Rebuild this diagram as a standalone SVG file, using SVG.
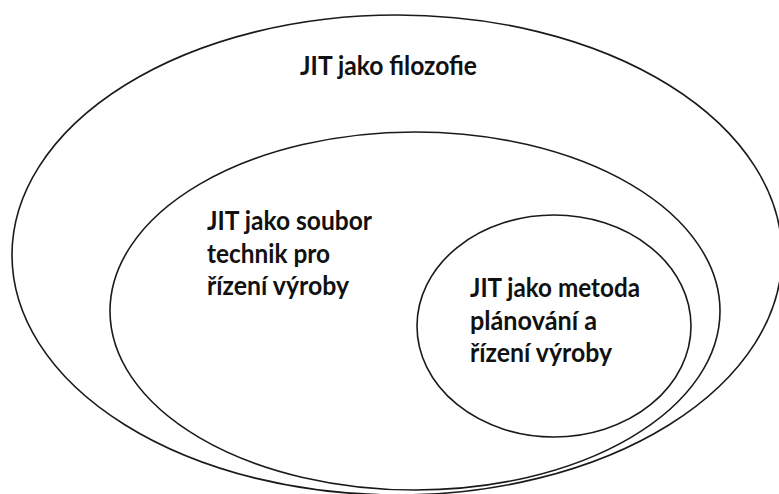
<svg xmlns="http://www.w3.org/2000/svg" width="779" height="494" viewBox="0 0 779 494">
<style>
.ring{fill:none;stroke:#1a1a1a;stroke-width:1.6}
.lbl{font-family:Lato,"Open Sans","Liberation Sans",sans-serif;font-weight:bold;font-size:26px;fill:#111}
</style>
<rect width="779" height="494" fill="#fff"/>
<g id="node-philosophy">
<ellipse class="ring" cx="397" cy="255" rx="385" ry="240"/>
<text class="lbl" x="300" y="75" textLength="177" lengthAdjust="spacingAndGlyphs">JIT jako filozofie</text>
</g>
<g id="node-techniques">
<ellipse class="ring" cx="415" cy="311" rx="305" ry="179"/>
<text class="lbl" x="207" y="230" textLength="165" lengthAdjust="spacingAndGlyphs">JIT jako soubor</text>
<text class="lbl" x="207" y="263" textLength="123" lengthAdjust="spacingAndGlyphs">technik pro</text>
<text class="lbl" x="207" y="295" textLength="142" lengthAdjust="spacingAndGlyphs">řízení výroby</text>
</g>
<g id="node-method">
<ellipse class="ring" cx="554" cy="326" rx="137" ry="111"/>
<text class="lbl" x="470" y="297" textLength="170" lengthAdjust="spacingAndGlyphs">JIT jako metoda</text>
<text class="lbl" x="470" y="330" textLength="127" lengthAdjust="spacingAndGlyphs">plánování a</text>
<text class="lbl" x="470" y="362" textLength="142" lengthAdjust="spacingAndGlyphs">řízení výroby</text>
</g>
<g id="connectors"></g>
</svg>
